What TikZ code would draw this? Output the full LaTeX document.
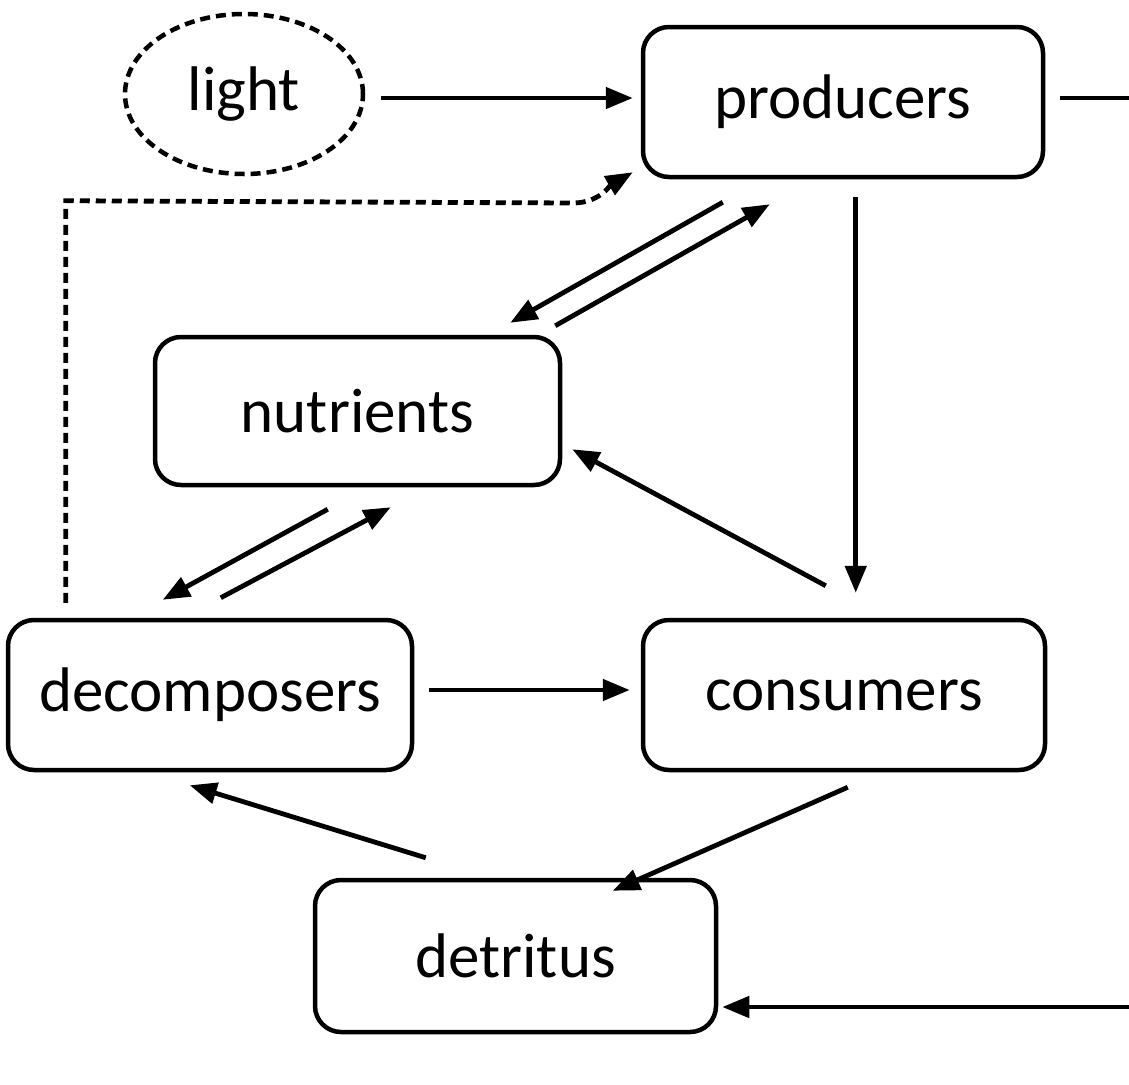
\documentclass[tikz,border=0pt]{standalone}
\usepackage{fontspec}
\setmainfont{Carlito}
\usetikzlibrary{arrows.meta,shapes.geometric,calc}
\begin{document}
\begin{tikzpicture}[x=1pt,y=-1pt,
  box/.style={draw,line width=4.5pt,rounded corners=26pt,minimum width=#1,minimum height=150pt,inner sep=0pt,font=\fontsize{63}{65}\selectfont},
  conn/.style={line width=4.8pt,-{Triangle[length=27pt,width=21pt]}},
  plain/.style={line width=4.8pt},
  dashconn/.style={line width=4.8pt,dash pattern=on 10pt off 6pt,-{Triangle[length=27pt,width=21pt]}}
]
\useasboundingbox (0,0) rectangle (1129,1084);
\node[draw,ellipse,line width=4.5pt,dash pattern=on 10pt off 6pt,minimum width=238pt,minimum height=160pt,inner sep=0pt,font=\fontsize{63}{65}\selectfont] (light) at (244,94) {light};
\node[box=400pt] (prod) at (843,102) {producers};
\node[box=405pt,minimum height=148pt] (nutr) at (357.5,411) {nutrients};
\node[box=404pt] (dec) at (210,695) {decomposers};
\node[box=402pt] (cons) at (844,695) {consumers};
\node[box=401pt,minimum height=152pt] (det) at (515.5,956) {detritus};
\coordinate (outR) at (1129,98);
\coordinate (inR) at (1129,1007);

\draw[conn] ($(light.east)+(16,4)$) -- ($(prod.west)+(-8,-4)$);
\draw[plain] ($(prod.east)+(15,-4)$) -- (outR);
\draw[conn] (inR) -- ($(det.east)+(4,51)$);
\draw[dashconn] ($(dec.north west)+(60,-15)$) -- ($(dec.north west)+(60,-417)$) -- (573,203) to[out=0,in=-150] ($(prod.south west)+(-8,-7)$);
\draw[conn] ($(prod.south west)+(82,23)$) -- ($(nutr.north east)+(-52,-12)$);
\draw[conn] ($(nutr.north east)+(-7,-9)$) -- ($(prod.south west)+(129,25)$);
\draw[conn] ($(prod.south west)+(215,18)$) -- ($(cons.north west)+(215,-25)$);
\draw[conn] ($(cons.north west)+(185,-32)$) -- ($(nutr.south east)+(10,-38)$);
\draw[conn] ($(nutr.south west)+(175,22)$) -- ($(dec.north west)+(157,-18)$);
\draw[conn] ($(dec.north west)+(215,-20)$) -- ($(nutr.south west)+(238,20)$);
\draw[conn] ($(dec.east)+(15,-5)$) -- ($(cons.west)+(-11,-5)$);
\draw[conn] ($(cons.south west)+(207,15)$) -- ($(det.north west)+(300,13)$);
\draw[conn] ($(det.north west)+(113,-20)$) -- ($(dec.south west)+(184,13)$);
\end{tikzpicture}
\end{document}
